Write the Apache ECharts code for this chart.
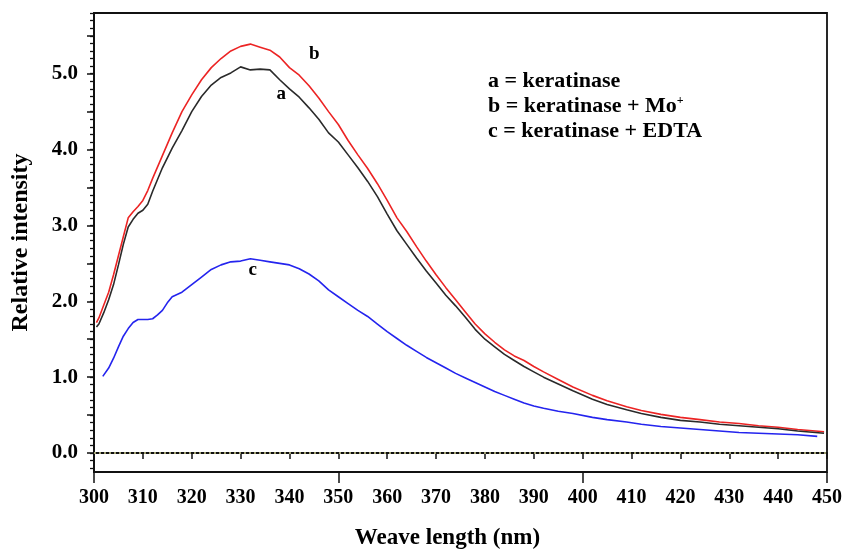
<!DOCTYPE html>
<html>
<head>
<meta charset="utf-8">
<script src="https://cdn.jsdelivr.net/npm/echarts@6/dist/echarts.min.js"></script>
<style>
  html, body { margin: 0; padding: 0; background: #fff; }
  #chart { width: 842px; height: 549px; }
</style>
</head>
<body>
<div id="chart"></div>
<script>
// wavelengths (nm) for curves a and b
const wlAB = [300.5, 301, 302, 303, 304, 305, 306, 307, 308, 309, 310, 311, 312, 314, 316, 318, 320, 322, 324, 326,
  328, 330, 332, 334, 336, 338, 340, 342, 344, 346, 348, 350, 352, 354, 356, 358, 360, 362, 364, 366,
  368, 370, 372, 374, 376, 378, 380, 382, 384, 386, 388, 390, 392, 395, 398, 402, 405, 409, 412, 416,
  420, 424, 428, 432, 436, 440, 444, 449.4];

// a = keratinase
const keratinase = [1.66, 1.7, 1.85, 2.02, 2.22, 2.48, 2.75, 2.98, 3.08, 3.16, 3.2, 3.28, 3.45, 3.76, 4.02, 4.25, 4.5, 4.7, 4.85, 4.95,
  5.01, 5.09, 5.05, 5.06, 5.05, 4.92, 4.8, 4.69, 4.55, 4.4, 4.22, 4.1, 3.93, 3.76, 3.58, 3.38, 3.15, 2.93, 2.75, 2.57,
  2.4, 2.24, 2.08, 1.94, 1.79, 1.63, 1.5, 1.4, 1.3, 1.22, 1.14, 1.07, 1.0, 0.91, 0.82, 0.71, 0.64, 0.57, 0.52, 0.47,
  0.43, 0.41, 0.38, 0.36, 0.34, 0.32, 0.29, 0.26];

// b = keratinase + Mo+
const keratinaseMo = [1.72, 1.78, 1.95, 2.12, 2.35, 2.6, 2.85, 3.1, 3.18, 3.25, 3.33, 3.46, 3.62, 3.92, 4.22, 4.5, 4.72, 4.92, 5.08, 5.2,
  5.3, 5.36, 5.39, 5.35, 5.31, 5.22, 5.08, 4.98, 4.84, 4.68, 4.5, 4.33, 4.12, 3.93, 3.75, 3.55, 3.33, 3.1, 2.92, 2.72,
  2.53, 2.35, 2.18, 2.02, 1.86, 1.7, 1.57, 1.46, 1.36, 1.28, 1.22, 1.14, 1.07, 0.97, 0.87, 0.76, 0.69, 0.61, 0.56, 0.51,
  0.47, 0.44, 0.41, 0.39, 0.36, 0.34, 0.31, 0.28];

// wavelengths (nm) for curve c
const wlC = [301.8, 303, 304, 305, 306, 307, 308, 309, 310, 311, 312, 313, 314, 315, 316, 318, 320, 322, 324, 326,
  328, 330, 332, 334, 336, 338, 340, 342, 344, 346, 348, 350, 352, 354, 356, 358, 360, 362, 364, 366,
  368, 370, 372, 374, 376, 378, 380, 382, 384, 386, 388, 390, 392, 395, 398, 402, 405, 409, 412, 416,
  420, 424, 428, 432, 436, 440, 444, 448];

// c = keratinase + EDTA
const keratinaseEdta = [1.01, 1.12, 1.25, 1.4, 1.54, 1.64, 1.72, 1.76, 1.76, 1.76, 1.77, 1.82, 1.88, 1.98, 2.06, 2.12, 2.22, 2.32, 2.42, 2.48,
  2.52, 2.53, 2.56, 2.54, 2.52, 2.5, 2.48, 2.43, 2.36, 2.27, 2.15, 2.06, 1.97, 1.88, 1.8, 1.7, 1.6, 1.51, 1.42, 1.34,
  1.26, 1.19, 1.12, 1.05, 0.99, 0.93, 0.87, 0.81, 0.76, 0.71, 0.66, 0.62, 0.59, 0.55, 0.52, 0.47, 0.44, 0.41, 0.38, 0.35,
  0.33, 0.31, 0.29, 0.27, 0.26, 0.25, 0.24, 0.22];

// curve letters placed next to the lines
const curveTags = [
  { name: 'a', value: [338.3, 4.73] },
  { name: 'b', value: [345.1, 5.26] },
  { name: 'c', value: [332.5, 2.41] }
];

const legendLines = ['a = keratinase', 'b = keratinase + Mo{sup|+}', 'c = keratinase + EDTA'];

const font = 'Liberation Serif, Times New Roman, serif';
const pairs = (xs, ys) => xs.map((x, i) => [x, ys[i]]);

// x axes that only exist so the tick-only grids have a cartesian
const hiddenX = gridIndex => ({
  type: 'value', gridIndex, min: 300, max: 450, show: false,
  axisLine: { show: false }, axisTick: { show: false }, axisLabel: { show: false }, splitLine: { show: false }
});

const chart = echarts.init(document.getElementById('chart'));

const option = {
  backgroundColor: '#fff',
  animation: false,
  grid: [
    // data area
    { left: 94, right: 15, top: 13, bottom: 77, show: true, borderColor: '#111', borderWidth: 1.8,
      containLabel: false, outerBoundsMode: 'none' },
    // minor y ticks, -0.2 .. 5.8
    { left: 94, right: 15, top: 13, bottom: 80.8, containLabel: false, outerBoundsMode: 'none' },
    // major y ticks + labels, 0 .. 5.5
    { left: 94, right: 15, top: 35.7, bottom: 96, containLabel: false, outerBoundsMode: 'none' }
  ],
  xAxis: [
    {
      type: 'value', gridIndex: 0, position: 'bottom', min: 300, max: 450, interval: 10,
      name: 'Weave length (nm)', nameLocation: 'middle', nameGap: 55,
      nameTextStyle: { fontFamily: font, fontWeight: 'bold', fontSize: 23, color: '#000', padding: [0, 26, 0, 0] },
      axisLine: { lineStyle: { color: '#111', width: 2 } },
      axisTick: { inside: false, length: 6, lineStyle: { color: '#111', width: 1.5 } },
      axisLabel: { fontFamily: font, fontWeight: 'bold', fontSize: 20, color: '#000', margin: 16 },
      splitLine: { show: false }
    },
    {
      type: 'value', gridIndex: 0, position: 'bottom', min: 300, max: 450, interval: 50,
      axisLine: { show: false },
      axisTick: { length: 11, lineStyle: { color: '#111', width: 1.5 } },
      axisLabel: { show: false },
      splitLine: { show: false }
    },
    hiddenX(1),
    hiddenX(2)
  ],
  yAxis: [
    {
      type: 'value', gridIndex: 0, min: -0.25, max: 5.8,
      name: 'Relative intensity', nameLocation: 'middle', nameGap: 61,
      nameTextStyle: { fontFamily: font, fontWeight: 'bold', fontSize: 24, color: '#000' },
      axisLine: { show: true, lineStyle: { color: '#111', width: 2 } },
      axisTick: { show: false },
      axisLabel: { show: false },
      splitLine: { show: false }
    },
    {
      type: 'value', gridIndex: 1, min: -0.2, max: 5.8, interval: 0.1,
      axisLine: { show: false },
      axisTick: { show: true, length: 4, lineStyle: { color: '#111', width: 1.3 } },
      axisLabel: { show: false },
      splitLine: { show: false }
    },
    {
      type: 'value', gridIndex: 2, min: 0, max: 5.5, interval: 0.5,
      axisLine: { show: false },
      axisTick: { show: true, length: 7, lineStyle: { color: '#111', width: 1.5 } },
      axisLabel: {
        fontFamily: font, fontWeight: 'bold', fontSize: 21, color: '#000', margin: 16,
        formatter: v => (Math.abs(v - Math.round(v)) < 1e-6 ? v.toFixed(1) : '')
      },
      splitLine: { show: false }
    }
  ],
  graphic: [
    {
      type: 'text', left: 488, top: 69,
      style: {
        text: legendLines.join('\n'),
        font: 'bold 22px ' + font,
        fill: '#000',
        lineHeight: 25,
        rich: {
          sup: { font: 'bold 12px ' + font, fill: '#000', padding: [0, 0, 12, 0] }
        }
      }
    }
  ],
  series: [
    {
      name: 'b', type: 'line', xAxisIndex: 0, yAxisIndex: 0,
      data: pairs(wlAB, keratinaseMo), showSymbol: false, symbol: 'none',
      lineStyle: { color: '#ec2424', width: 1.6 }
    },
    {
      name: 'a', type: 'line', xAxisIndex: 0, yAxisIndex: 0,
      data: pairs(wlAB, keratinase), showSymbol: false, symbol: 'none',
      lineStyle: { color: '#2a2a2a', width: 1.6 }
    },
    {
      name: 'c', type: 'line', xAxisIndex: 0, yAxisIndex: 0,
      data: pairs(wlC, keratinaseEdta), showSymbol: false, symbol: 'none',
      lineStyle: { color: '#2424ee', width: 1.6 }
    },
    {
      name: 'tags', type: 'scatter', xAxisIndex: 0, yAxisIndex: 0,
      symbolSize: 0, data: curveTags,
      itemStyle: { color: '#9e9e70', opacity: 1 },
      label: {
        show: true, position: 'inside', formatter: p => p.name,
        fontFamily: font, fontWeight: 'bold', fontSize: 19, color: '#000', opacity: 1
      },
      // dotted zero line
      markLine: {
        silent: true, symbol: ['none', 'none'],
        label: { show: false },
        lineStyle: { color: '#9e9e70', width: 2, type: [2, 3], opacity: 1 },
        data: [{ yAxis: 0 }]
      }
    }
  ]
};

chart.setOption(option);
</script>
</body>
</html>
